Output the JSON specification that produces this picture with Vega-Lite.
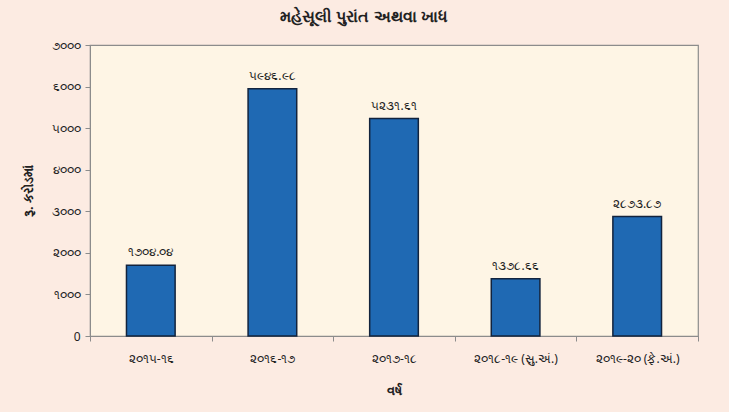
{
  "$schema": "https://vega.github.io/schema/vega-lite/v6.json",
  "autosize": "none",
  "width": 608,
  "height": 291,
  "padding": {"left": 90, "top": 45, "right": 31, "bottom": 76},
  "background": "#fcebe2",
  "title": {
    "text": "મહેસૂલી પુરાંત અથવા ખાધ",
    "fontSize": 16,
    "fontWeight": "bold",
    "font": "Noto Sans",
    "color": "#222222",
    "anchor": "middle",
    "dx": -30,
    "offset": 14
  },
  "config": {
    "view": {"fill": "#fef5e5", "stroke": "#8c8c8c", "strokeWidth": 1.2},
    "font": "Noto Sans"
  },
  "data": {
    "values": [
      {"year": "૨૦૧૫-૧૬", "value": 1704.04, "label": "૧૭૦૪.૦૪"},
      {"year": "૨૦૧૬-૧૭", "value": 5946.98, "label": "૫૯૪૬.૯૮"},
      {"year": "૨૦૧૭-૧૮", "value": 5231.61, "label": "૫૨૩૧.૬૧"},
      {"year": "૨૦૧૮-૧૯ (સુ.અં.)", "value": 1378.66, "label": "૧૩૭૮.૬૬"},
      {"year": "૨૦૧૯-૨૦ (ફે.અં.)", "value": 2873.87, "label": "૨૮૭૩.૮૭"}
    ]
  },
  "encoding": {
    "x": {
      "field": "year",
      "type": "nominal",
      "sort": null,
      "scale": {"paddingInner": 0, "paddingOuter": 0},
      "axis": {
        "title": "વર્ષ",
        "labelAngle": 0,
        "tickBand": "extent",
        "domainColor": "#8c8c8c",
        "tickColor": "#8c8c8c",
        "tickSize": 5,
        "labelPadding": 12,
        "labelFontSize": 12,
        "labelColor": "#222222",
        "titleFontSize": 13,
        "titleFontWeight": "bold",
        "titleColor": "#222222",
        "titlePadding": 20
      }
    },
    "y": {
      "field": "value",
      "type": "quantitative",
      "scale": {"domain": [0, 7000], "nice": false},
      "axis": {
        "title": "રૂ. કરોડમાં",
        "values": [0, 1000, 2000, 3000, 4000, 5000, 6000, 7000],
        "labelExpr": "['0','૧૦૦૦','૨૦૦૦','૩૦૦૦','૪૦૦૦','૫૦૦૦','૬૦૦૦','૭૦૦૦'][round(datum.value/1000)]",
        "grid": false,
        "domainColor": "#8c8c8c",
        "tickColor": "#8c8c8c",
        "tickSize": 5,
        "labelPadding": 5,
        "labelFontSize": 12,
        "labelColor": "#222222",
        "titleFontSize": 13,
        "titleFontWeight": "bold",
        "titleColor": "#222222",
        "titlePadding": 16
      }
    }
  },
  "layer": [
    {
      "mark": {"type": "bar", "width": {"band": 0.4}, "fill": "#1f69b3", "stroke": "#12233d", "strokeWidth": 1.5}
    },
    {
      "mark": {"type": "text", "dy": -13, "fontSize": 12, "color": "#222222"},
      "encoding": {"text": {"field": "label"}}
    }
  ]
}
